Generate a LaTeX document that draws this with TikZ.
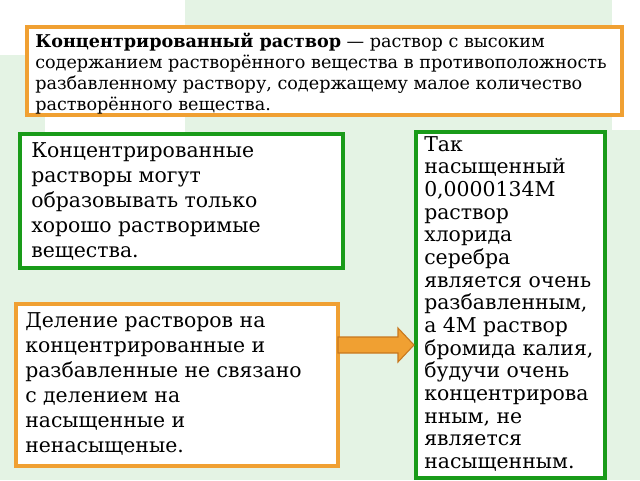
\documentclass[tikz,border=0pt]{standalone}
\usepackage{fontspec}
\setmainfont{DejaVu Serif}
\definecolor{bggreen}{RGB}{228,243,228}
\definecolor{ora}{RGB}{240,160,50}
\definecolor{oradark}{RGB}{200,120,30}
\definecolor{grn}{RGB}{25,155,25}
\begin{document}
\begin{tikzpicture}[x=0.75pt,y=-0.75pt,
  box/.style={draw,line width=3pt,fill=white,inner sep=0pt},
  txt/.style={anchor=north west,align=left,inner sep=0pt,font=\fontsize{15.3}{18.75}\selectfont}]
\useasboundingbox (0,0) rectangle (640,480);
\fill[bggreen] (0,0) rectangle (640,480);
\fill[white] (0,0) rectangle (185,55);
\fill[white] (45,0) rectangle (185,165);
\fill[white] (612,0) rectangle (640,130);
% top box
\draw[box,draw=ora] (27,27) rectangle (622,115);
\node[txt,font=\fontsize{13.2}{15.8}\selectfont] (t1) at (35,33) {\textbf{Концентрированный раствор} — раствор с высоким\\содержанием растворённого вещества в противоположность\\разбавленному раствору, содержащему малое количество\\растворённого вещества.};
% left green
\draw[box,draw=grn] (20,134) rectangle (343,268);
\node[txt] (t2) at (31,142) {Концентрированные\\растворы могут\\образовывать только\\хорошо растворимые\\вещества.};
% right green
\draw[box,draw=grn] (416,132) rectangle (605,478);
\node[txt,font=\fontsize{15.3}{17}\selectfont] (t3) at (424,136) {Так\\насыщенный\\0,0000134М\\раствор\\хлорида\\серебра\\является очень\\разбавленным,\\а 4М раствор\\бромида калия,\\будучи очень\\концентрирова\\нным, не\\является\\насыщенным.};
% bottom orange
\draw[box,draw=ora] (16,304) rectangle (338,466);
\node[txt] (t4) at (25,312) {Деление растворов на\\концентрированные и\\разбавленные не связано\\с делением на\\насыщенные и\\ненасыщеные.};
% arrow
\draw[fill=ora,draw=oradark,line width=0.8pt] (338,337) -- (398,337) -- (398,328) -- (414,345) -- (398,362) -- (398,353) -- (338,353) -- cycle;
\end{tikzpicture}
\end{document}
